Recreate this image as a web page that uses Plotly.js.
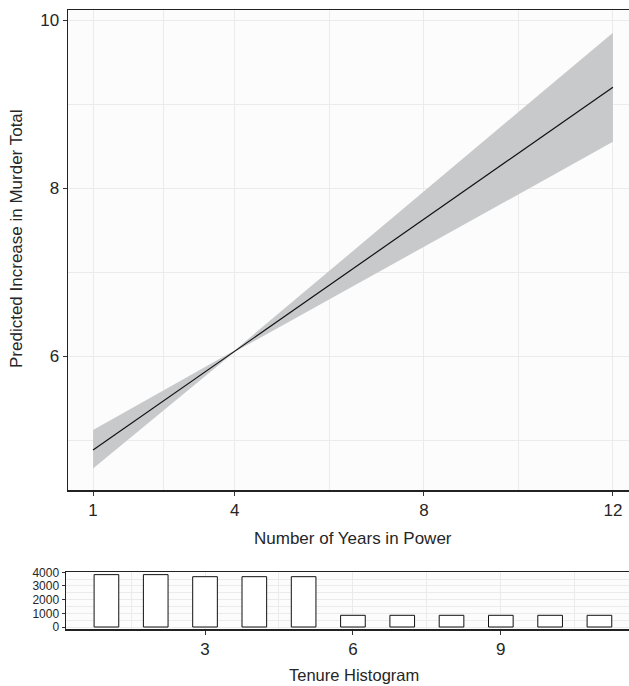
<!DOCTYPE html>
<html>
<head>
<meta charset="utf-8">
<script src="https://cdn.plot.ly/plotly-3.0.1.min.js"></script>
<style>html,body{margin:0;padding:0;background:#fff;}#chart{width:629px;height:686px;}</style>
</head>
<body>
<div id="chart"></div>
<script>
// Fitted line
const years = [1, 12];
const predicted = [4.88, 9.20];
// Confidence band (narrowest near 4 years)
const bandX = [1, 4, 12];
const bandUpper = [5.12, 6.07, 9.85];
const bandLower = [4.66, 6.05, 8.55];
// Tenure histogram
const tenure = [1, 2, 3, 4, 5, 6, 7, 8, 9, 10, 11];
const tenureCount = [3830, 3830, 3680, 3680, 3680, 855, 855, 855, 855, 855, 855];
// Tick labels
const mainXTicks = [1, 4, 8, 12];
const mainYTicks = [6, 8, 10];
const histXTicks = [3, 6, 9];
const histYTicks = [0, 1000, 2000, 3000, 4000];

const H = 686, W = 629;
const font = 'Liberation Sans, Arial, Helvetica, sans-serif';
const txt = '#262626';
const grid = '#ebebeb';

const traces = [
  {x: bandX, y: bandLower, mode: 'lines', line: {width: 0, color: 'rgba(0,0,0,0)'}, hoverinfo: 'skip', showlegend: false, xaxis: 'x', yaxis: 'y'},
  {x: bandX, y: bandUpper, mode: 'lines', fill: 'tonexty', fillcolor: '#c8c9cb', line: {width: 0, color: 'rgba(0,0,0,0)'}, hoverinfo: 'skip', showlegend: false, xaxis: 'x', yaxis: 'y'},
  {x: years, y: predicted, mode: 'lines', line: {color: '#111111', width: 1.2}, showlegend: false, xaxis: 'x', yaxis: 'y'},
  {type: 'bar', x: tenure, y: tenureCount, width: 0.5, marker: {color: '#ffffff', line: {color: '#111111', width: 1}}, showlegend: false, xaxis: 'x2', yaxis: 'y2'}
];

const layout = {
  width: W, height: H,
  margin: {l: 0, r: 0, t: 0, b: 0},
  paper_bgcolor: '#ffffff',
  plot_bgcolor: '#fcfcfc',
  font: {family: font, color: txt, size: 17},
  showlegend: false,
  xaxis: {
    domain: [68 / W, 1], anchor: 'y',
    range: [0.47, 12.34], tickvals: mainXTicks,
    ticks: 'outside', ticklen: 4, tickcolor: '#333', tickwidth: 1,
    showline: true, linecolor: '#222', linewidth: 1.5, mirror: true,
    showgrid: true, gridcolor: grid, gridwidth: 1,
    minor: {tickvals: [2.5, 6, 10], showgrid: true, gridcolor: grid, gridwidth: 1},
    zeroline: false,
    tickfont: {size: 17, color: txt}
  },
  yaxis: {
    domain: [(H - 490) / H, (H - 10) / H], anchor: 'x',
    range: [4.405, 10.12], tickvals: mainYTicks,
    ticks: 'outside', ticklen: 4, tickcolor: '#333', tickwidth: 1,
    showline: true, linecolor: '#222', linewidth: 1.5,
    showgrid: true, gridcolor: grid, gridwidth: 1,
    minor: {tickvals: [5, 7, 9], showgrid: true, gridcolor: grid, gridwidth: 1},
    zeroline: false,
    tickfont: {size: 17, color: txt}
  },
  xaxis2: {
    domain: [66 / W, 1], anchor: 'y2',
    range: [0.18, 11.6], tickvals: histXTicks,
    ticks: 'outside', ticklen: 4, tickcolor: '#333', tickwidth: 1,
    showline: true, linecolor: '#222', linewidth: 1.5, mirror: true,
    showgrid: true, gridcolor: grid, gridwidth: 1,
    minor: {tickvals: [1.5, 4.5, 7.5, 10.5], showgrid: true, gridcolor: grid, gridwidth: 1},
    zeroline: false,
    tickfont: {size: 17, color: txt}
  },
  yaxis2: {
    domain: [(H - 629) / H, (H - 572) / H], anchor: 'x2',
    range: [-146, 4022], tickvals: histYTicks,
    ticks: 'outside', ticklen: 3, tickcolor: '#333', tickwidth: 1,
    showline: true, linecolor: '#222', linewidth: 1.5,
    showgrid: true, gridcolor: grid, gridwidth: 1,
    minor: {tickvals: [500, 1500, 2500, 3500], showgrid: true, gridcolor: grid, gridwidth: 1},
    zeroline: false,
    tickfont: {size: 12, color: txt}
  },
  annotations: [
    {text: 'Predicted Increase in Murder Total', xref: 'paper', yref: 'paper', x: 16 / W, y: (H - 239) / H,
     xanchor: 'center', yanchor: 'middle', textangle: -90, showarrow: false, font: {size: 17, color: txt}},
    {text: 'Number of Years in Power', xref: 'paper', yref: 'paper', x: 353 / W, y: (H - 538) / H,
     xanchor: 'center', yanchor: 'middle', showarrow: false, font: {size: 17, color: txt}},
    {text: 'Tenure Histogram', xref: 'paper', yref: 'paper', x: 353.5 / W, y: (H - 675) / H,
     xanchor: 'center', yanchor: 'middle', showarrow: false, font: {size: 16.5, color: txt}}
  ]
};

Plotly.newPlot('chart', traces, layout, {displayModeBar: false, staticPlot: true});
</script>
</body>
</html>
